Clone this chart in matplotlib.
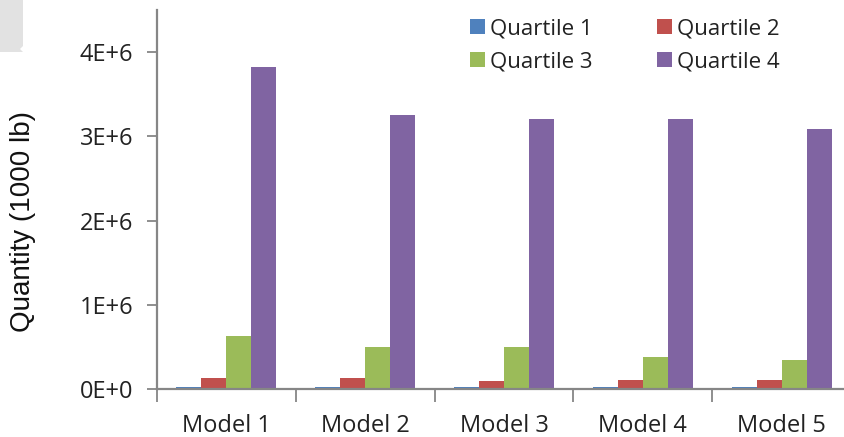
import matplotlib
matplotlib.use("Agg")
import matplotlib.pyplot as plt
from matplotlib.patches import Polygon
from matplotlib.ticker import FuncFormatter, FixedLocator
import numpy as np

models = ["Model 1", "Model 2", "Model 3", "Model 4", "Model 5"]
series_names = ["Quartile 1", "Quartile 2", "Quartile 3", "Quartile 4"]
quartile_1 = [0.025e6, 0.025e6, 0.025e6, 0.025e6, 0.025e6]
quartile_2 = [0.13e6, 0.13e6, 0.095e6, 0.11e6, 0.11e6]
quartile_3 = [0.63e6, 0.50e6, 0.50e6, 0.38e6, 0.34e6]
quartile_4 = [3.82e6, 3.25e6, 3.20e6, 3.20e6, 3.09e6]
colors = ["#4F81BD", "#C0504D", "#9BBB59", "#8064A2"]
y_ticks = [0, 1e6, 2e6, 3e6, 4e6]

plt.rcParams["font.family"] = ["Open Sans", "DejaVu Sans"]

fig = plt.figure(figsize=(8.45, 4.37), dpi=100)
ax = fig.add_axes([157 / 845, 48 / 437, 694 / 845, 379 / 437])

x = np.arange(len(models))
width = 0.18
series = [quartile_1, quartile_2, quartile_3, quartile_4]
handles = []
for i, (vals, col, name) in enumerate(zip(series, colors, series_names)):
    b = ax.bar(x + (i - 1.5) * width, vals, width, color=col, label=name,
               edgecolor="none", zorder=2)
    handles.append(b)

ax.set_xlim(-0.5, len(models) - 0.5)
ax.set_ylim(0, 4.5e6)

ax.yaxis.set_major_locator(FixedLocator(y_ticks))
ax.yaxis.set_major_formatter(FuncFormatter(
    lambda v, p: "0E+0" if v == 0 else f"{int(round(v / 1e6))}E+6"))
ax.set_xticks(x)
ax.set_xticklabels(models)
ax.set_xticks(np.arange(len(models) + 1) - 0.5, minor=True)

grey = "#868686"
for s in ["top", "right"]:
    ax.spines[s].set_visible(False)
for s in ["left", "bottom"]:
    ax.spines[s].set_color(grey)
    ax.spines[s].set_linewidth(1.6)

ax.tick_params(axis="y", direction="out", length=7, width=1.3, color=grey,
               labelsize=17, labelcolor="#222222", pad=10)
ax.tick_params(axis="x", which="major", length=0, labelsize=17,
               labelcolor="#222222", pad=18)
ax.tick_params(axis="x", which="minor", direction="out", length=9, width=1.3,
               color=grey)

fig.text(23 / 845, 1 - 221 / 437, "Quantity (1000 lb)", rotation=90,
         ha="center", va="center", fontsize=20, color="#111111",
         family=["Liberation Sans", "DejaVu Sans"])

order = [0, 2, 1, 3]
leg = ax.legend([handles[i] for i in order], [series_names[i] for i in order],
                ncol=2, frameon=False, loc="upper left",
                bbox_to_anchor=(459 / 845, 1 - 7 / 437),
                bbox_transform=fig.transFigure, fontsize=16,
                handlelength=0.65, handleheight=0.65, handletextpad=0.25,
                columnspacing=2.9, labelspacing=0.55, borderpad=0)
for t in leg.get_texts():
    t.set_color("#222222")

# light grey tab in the upper left corner
tab = Polygon([(0, 437), (23, 437), (23, 437 - 46), (20, 437 - 49),
               (23, 437 - 52), (0, 437 - 52)], closed=True,
              transform=None, facecolor="#e2e2e2", edgecolor="none")
fig.patches.append(tab)

fig.savefig("out.png", dpi=100)
